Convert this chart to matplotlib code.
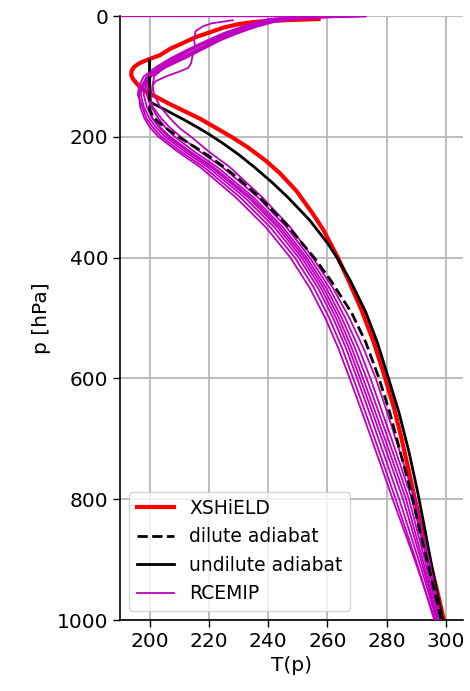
import matplotlib
matplotlib.use('Agg')
import matplotlib.pyplot as plt

# XSHiELD mean profile (T [K], p [hPa])
xshield_T = [257.0, 248.0, 240.5, 235.0, 230.4, 225.0, 220.3, 215.5, 211.1, 207.0,
             203.4, 199.5, 196.6, 194.8, 193.9, 193.8, 194.5, 195.5, 197.0, 198.9,
             202.3, 206.5, 211.1, 217.0, 222.3, 227.6, 233.3, 239.3, 243.9, 249.6,
             255.0, 258.6, 263.5, 267.3, 271.5, 275.6, 279.5, 282.5, 285.0, 287.3,
             289.5, 291.9, 294.4, 296.9, 299.3]
xshield_p = [5, 6.5, 8, 10, 13, 19, 27, 35, 45, 54,
             65, 72, 78, 84, 91, 98, 105, 111, 119, 126,
             134, 145, 156, 170, 185, 200, 218, 240, 260, 290,
             327, 354, 400, 440, 487, 540, 600, 650, 700, 750,
             800, 850, 900, 950, 1000]

# dilute adiabat
dilute_T = [200.0, 200.0, 201.0, 202.8, 206.4, 211.4, 216.3, 220.3, 225.1, 230.2,
            237.0, 245.8, 255.5, 261.0, 268.2, 272.9, 277.4, 281.1, 285.6, 288.3,
            291.0, 293.5, 296.0, 298.4]
dilute_p = [75, 155, 165, 175, 189, 205, 220, 233, 250, 270,
            300, 343, 400, 437, 492, 540, 600, 658, 741, 790,
            850, 900, 950, 1000]

# undilute adiabat
undilute_T = [200.0, 200.0, 203.2, 207.1, 211.7, 216.4, 219.8, 224.5, 230.2, 235.3,
              241.2, 246.6, 254.0, 260.0, 263.2, 267.6, 272.9, 276.8, 280.6, 284.2,
              287.6, 290.5, 292.9, 295.0, 297.2, 298.9]
undilute_p = [73, 142, 150, 160, 172, 185, 195, 210, 230, 250,
              275, 300, 338, 376, 400, 437, 490, 540, 600, 658,
              724, 790, 851, 906, 961, 1000]

# RCEMIP members
rce_p = [1000, 950, 900, 850, 800, 750, 700, 650, 600, 550, 500, 450, 400, 350, 300, 250,
         225, 200, 185, 170, 150, 130, 115, 100, 85, 70, 55, 40, 28, 18, 10, 5, 2]
rce_A = [296.3, 292.9, 289.4, 285.7, 282.0, 278.45, 274.85, 271.2, 267.5, 263.65, 259.25, 254.0,
         247.5, 239.25, 229.0, 217.0, 209.6, 203.0, 200.2, 198.3, 196.8, 196.4, 197.2, 199.5,
         204.0, 209.0, 214.5, 220.5, 226.0, 231.0, 236.0, 241.0, 250.0]
rce_H = [296.0, 292.9, 289.75, 286.4, 283.0, 279.5, 275.95, 272.35, 268.7, 264.95, 260.6, 255.45,
         249.0, 240.75, 230.5, 218.25, 210.7, 204.0, 201.2, 199.0, 197.5, 196.0, 196.5, 198.0,
         202.0, 207.0, 213.0, 219.5, 225.0, 231.0, 236.0, 240.0, 248.0]
rce_B = [296.8, 293.8, 290.7, 287.45, 284.2, 280.75, 277.2, 273.65, 270.0, 266.25, 261.9, 256.75,
         250.3, 242.15, 232.0, 219.6, 212.0, 205.2, 202.3, 200.0, 198.0, 197.0, 197.5, 199.0,
         203.0, 208.0, 214.0, 221.0, 227.0, 232.0, 237.0, 243.0, 252.0]
rce_C = [297.2, 294.7, 292.1, 289.3, 286.5, 282.95, 279.35, 275.7, 272.0, 268.2, 263.85, 258.65,
         252.2, 244.1, 234.0, 221.5, 213.85, 207.0, 203.7, 201.0, 199.0, 198.0, 198.0, 199.5,
         204.0, 210.0, 216.0, 222.0, 228.0, 233.0, 238.0, 244.0, 254.0]
rce_D = [297.6, 295.25, 292.8, 290.15, 287.5, 284.0, 280.45, 276.85, 273.2, 269.3, 264.85, 259.55,
         253.0, 245.0, 235.0, 222.75, 215.2, 208.5, 205.4, 203.0, 200.5, 199.0, 198.5, 200.0,
         205.0, 211.0, 217.0, 223.0, 229.0, 234.0, 239.0, 245.0, 256.0]
rce_E = [298.0, 295.8, 293.5, 291.0, 288.5, 285.05, 281.6, 278.05, 274.5, 270.55, 266.0, 260.6,
         254.0, 246.25, 236.5, 224.5, 217.1, 210.5, 206.9, 204.0, 201.0, 200.0, 199.0, 200.5,
         205.5, 212.0, 218.0, 224.0, 230.0, 235.0, 240.0, 247.0, 258.0]
# member whose top level jumps across the domain
rce_F_p = rce_p + [0.5, 0.2]
rce_F = [298.4, 296.35, 294.2, 291.85, 289.5, 286.25, 283.0, 279.7, 276.3, 272.15, 267.4, 261.8,
         255.0, 247.5, 238.0, 227.0, 220.1, 214.0, 210.0, 207.0, 203.5, 201.5, 201.0, 201.5,
         205.0, 211.0, 217.0, 223.0, 230.0, 236.0, 242.0, 250.0, 262.0, 273.0, 150.0]
# member with the kinked stratosphere
rce_G_p = [1000, 950, 900, 850, 800, 750, 700, 650, 600, 550, 500, 450, 400, 350, 300, 250,
           225, 200, 185, 170, 150, 130, 115, 108, 100, 92, 86, 78, 65, 56, 40, 25, 17, 12, 7]
rce_G = [297.0, 294.3, 291.5, 288.5, 285.5, 281.95, 278.35, 274.7, 271.0, 267.25, 262.9, 257.75,
         251.3, 243.25, 233.2, 220.7, 213.05, 206.2, 203.3, 201.0, 200.0, 200.5, 201.0, 202.0,
         205.5, 210.0, 213.0, 214.0, 214.5, 215.5, 215.0, 215.5, 218.0, 221.0, 228.0]

rcemip = [(rce_A, rce_p), (rce_H, rce_p), (rce_B, rce_p), (rce_C, rce_p), (rce_D, rce_p),
          (rce_E, rce_p), (rce_F, rce_F_p), (rce_G, rce_G_p)]

fig = plt.figure(figsize=(4.7, 6.91), dpi=100)
ax = fig.add_axes([0.2553, 0.1027, 0.7297, 0.8741])

for i, (T, p) in enumerate(rcemip):
    ax.plot(T, p, color='m', lw=1.3, label='RCEMIP' if i == 0 else None, zorder=3)
ax.plot(xshield_T, xshield_p, color='red', lw=3, label='XSHiELD', zorder=2)
ax.plot(dilute_T, dilute_p, color='black', lw=2, ls='--', label='dilute adiabat', zorder=4)
ax.plot(undilute_T, undilute_p, color='black', lw=2, label='undilute adiabat', zorder=2.5)

ax.set_xlim(190, 305.7)
ax.set_ylim(1000, 0)
ax.set_xticks([200, 220, 240, 260, 280, 300])
ax.set_yticks([0, 200, 400, 600, 800, 1000])
ax.grid(True, color='#b8b8b8', lw=1.3)
ax.set_axisbelow(True)

for s in ['top', 'right']:
    ax.spines[s].set_visible(False)
for s in ['left', 'bottom']:
    ax.spines[s].set_linewidth(1.2)
ax.tick_params(labelsize=14.5, length=5, width=1)
ax.set_xlabel('T(p)', fontsize=14.5)
ax.set_ylabel('p [hPa]', fontsize=14.5)

h, l = ax.get_legend_handles_labels()
order = [l.index('XSHiELD'), l.index('dilute adiabat'), l.index('undilute adiabat'), l.index('RCEMIP')]
ax.legend([h[i] for i in order], [l[i] for i in order], loc='lower left', fontsize=13.5)

fig.savefig('out.png', dpi=100)
